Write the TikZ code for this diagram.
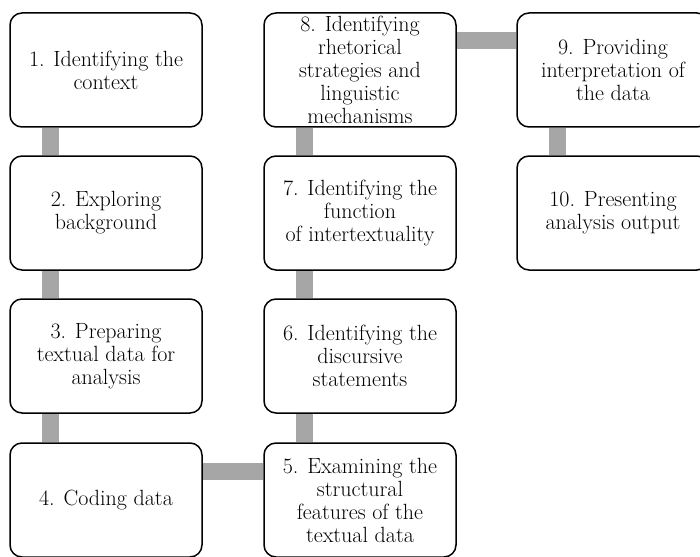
\documentclass[tikz,border=0pt]{standalone}
\usetikzlibrary{backgrounds}
\definecolor{linkgray}{HTML}{A6A6A6}
\begin{document}
\begin{tikzpicture}[x=1pt,y=-1pt,
  stage/.style={draw,line width=1.5pt,rounded corners=12pt,minimum width=192pt,minimum height=114pt,inner sep=0pt,align=center,font=\fontsize{22}{23}\selectfont},
  link/.style={linkgray,line width=17pt}]
\useasboundingbox (0,0) rectangle (700,556);
% first column
\node[stage] (b1) at (106,70)  {1. Identifying the\\context};
\node[stage] (b2) at (106,213) {2. Exploring\\background};
\node[stage] (b3) at (106,356) {3. Preparing\\textual data for\\analysis};
\node[stage] (b4) at (106,500) {4. Coding data};
% second column
\node[stage] (b5) at (360,500) {5. Examining the\\structural\\features of the\\textual data};
\node[stage] (b6) at (360,356) {6. Identifying the\\discursive\\statements};
\node[stage] (b7) at (360,213) {7. Identifying the\\function\\of intertextuality};
\node[stage] (b8) at (360,70)  {8. Identifying\\rhetorical\\strategies and\\linguistic\\mechanisms};
% third column
\node[stage] (b9) at (613,70)  {9. Providing\\interpretation of\\the data};
\node[stage] (b10) at (613,213) {10. Presenting\\analysis output};
\begin{scope}[on background layer]
\draw[link] ([xshift=-56pt]b1.south) -- ([xshift=-56pt]b2.north);
\draw[link] ([xshift=-56pt]b2.south) -- ([xshift=-56pt]b3.north);
\draw[link] ([xshift=-56pt]b3.south) -- ([xshift=-56pt]b4.north);
\draw[link] ([yshift=29pt]b4.east) -- ([yshift=29pt]b5.west);
\draw[link] ([xshift=-56pt]b5.north) -- ([xshift=-56pt]b6.south);
\draw[link] ([xshift=-56pt]b6.north) -- ([xshift=-56pt]b7.south);
\draw[link] ([xshift=-56pt]b7.north) -- ([xshift=-56pt]b8.south);
\draw[link] ([yshift=29pt]b8.east) -- ([yshift=29pt]b9.west);
\draw[link] ([xshift=-56pt]b9.south) -- ([xshift=-56pt]b10.north);
\end{scope}
\end{tikzpicture}
\end{document}
